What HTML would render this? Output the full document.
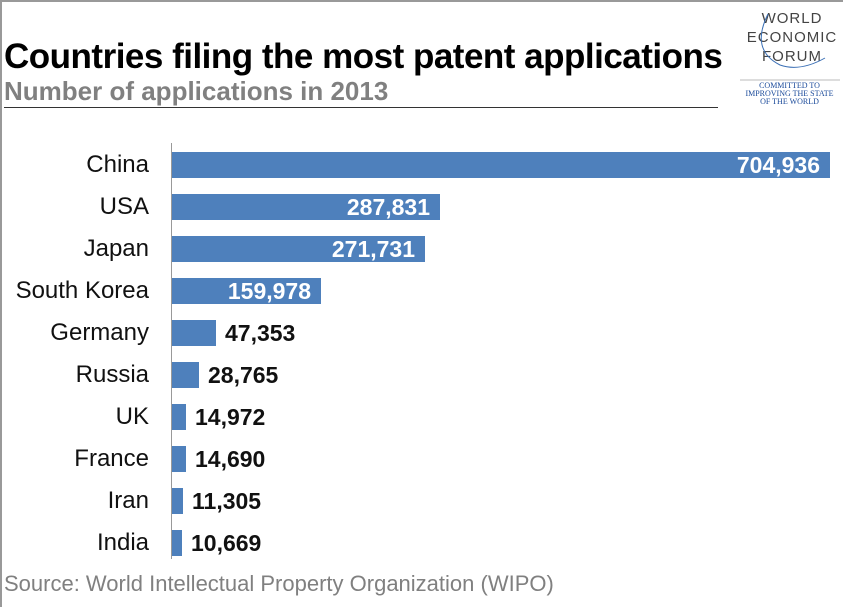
<!DOCTYPE html>
<html><head><style>
body{margin:0;background:#fff;}
#c{position:relative;width:843px;height:607px;overflow:hidden;font-family:"Liberation Sans",Arial,sans-serif;}
.t{position:absolute;white-space:nowrap;}
.lab{position:absolute;right:694px;font-size:24px;color:#111;text-align:right;line-height:28px;}
.bar{position:absolute;left:172px;height:26px;background:#4e80bc;}
.v{position:absolute;font-size:23px;font-weight:bold;white-space:nowrap;line-height:28px;}
</style></head><body><div id="c">
<div style="position:absolute;left:0;top:0;width:2px;height:607px;background:#999"></div>
<div style="position:absolute;left:0;top:0;width:843px;height:2px;background:#999"></div>
<div class="t" style="left:4px;top:37px;font-size:35px;font-weight:bold;color:#000;letter-spacing:-0.5px;">Countries filing the most patent applications</div>
<div class="t" style="left:4px;top:76px;font-size:26px;font-weight:bold;color:#808080;">Number of applications in 2013</div>
<div style="position:absolute;left:4px;top:107px;width:714px;height:1px;background:#333;"></div>
<div class="t" style="left:742px;top:9px;width:100px;font-size:15px;line-height:19px;color:#444;text-align:center;letter-spacing:1px;">WORLD<br>ECONOMIC<br>FORUM</div>
<svg style="position:absolute;left:740px;top:10px" width="100" height="95"><path d="M28 4 Q10 40 40 55 Q60 62 85 48" fill="none" stroke="#3a6fb5" stroke-width="1"/><line x1="0" y1="70" x2="100" y2="70" stroke="#bbb"/></svg>
<div class="t" style="left:742px;top:82px;font-size:8px;line-height:8px;color:#1a4a9a;text-align:center;font-family:'Liberation Serif',serif;width:95px;">COMMITTED TO<br>IMPROVING THE STATE<br>OF THE WORLD</div>
<div style="position:absolute;left:171px;top:143px;width:1px;height:416px;background:#999;"></div>

<div class="lab" style="top:151px">China</div><div class="bar" style="top:152px;width:658px"></div><div class="v" style="right:23px;top:151px;color:#fff">704,936</div>
<div class="lab" style="top:193px">USA</div><div class="bar" style="top:194px;width:268px"></div><div class="v" style="right:413px;top:193px;color:#fff">287,831</div>
<div class="lab" style="top:235px">Japan</div><div class="bar" style="top:236px;width:253px"></div><div class="v" style="right:428px;top:235px;color:#fff">271,731</div>
<div class="lab" style="top:277px">South Korea</div><div class="bar" style="top:278px;width:149px"></div><div class="v" style="right:532px;top:277px;color:#fff">159,978</div>
<div class="lab" style="top:319px">Germany</div><div class="bar" style="top:320px;width:44px"></div><div class="v" style="left:225px;top:319px;color:#111">47,353</div>
<div class="lab" style="top:361px">Russia</div><div class="bar" style="top:362px;width:27px"></div><div class="v" style="left:208px;top:361px;color:#111">28,765</div>
<div class="lab" style="top:403px">UK</div><div class="bar" style="top:404px;width:14px"></div><div class="v" style="left:195px;top:403px;color:#111">14,972</div>
<div class="lab" style="top:445px">France</div><div class="bar" style="top:446px;width:14px"></div><div class="v" style="left:195px;top:445px;color:#111">14,690</div>
<div class="lab" style="top:487px">Iran</div><div class="bar" style="top:488px;width:11px"></div><div class="v" style="left:192px;top:487px;color:#111">11,305</div>
<div class="lab" style="top:529px">India</div><div class="bar" style="top:530px;width:10px"></div><div class="v" style="left:191px;top:529px;color:#111">10,669</div>

<div class="t" style="left:4px;top:571px;font-size:22px;color:#808080;">Source: World Intellectual Property Organization (WIPO)</div>
</div></body></html>
